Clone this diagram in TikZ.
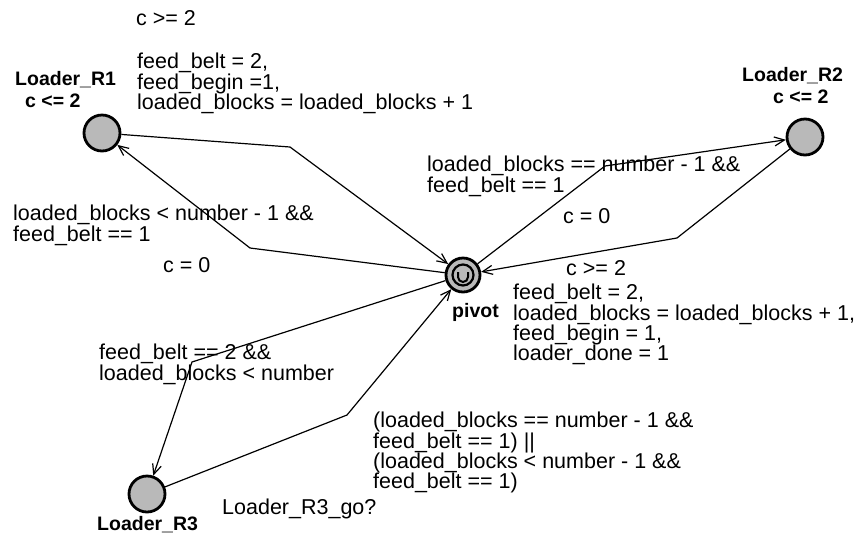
\documentclass[tikz,border=0pt]{standalone}
\usepackage{fontspec}
\setmainfont{Liberation Sans}
\usetikzlibrary{arrows.meta}
\tikzset{
  loc/.style = {circle, draw=black, line width=2.8pt, fill=gray!55,
    minimum size=36pt, inner sep=0pt},% location
  lname/.style = {font=\fontsize{19.5}{20}\selectfont\bfseries,
    inner sep=0pt, anchor=west},% name / invariant
  lbl/.style = {font=\fontsize{21.5}{20.3}\selectfont, align=left,
    inner sep=0pt, anchor=north west},% guard, sync, update
  trans/.style = {->, line width=1.2pt}% transition
}

\begin{document}
\begin{tikzpicture}[x=1pt,y=-1pt,>={Straight Barb[length=10pt,width=9pt]}]
\useasboundingbox (0,0) rectangle (865,542);

\node [loc] (r1) at (102,133) {};
\node [loc] (r2) at (805,137) {};
\node [loc] (r3) at (147,494) {};
\node [loc, minimum size=34pt] (pivot) at (463,275) {};
\draw [line width=2.2pt] (pivot) circle (10.5);
\draw [line width=2pt] (pivot) ++(-5,-3) -- ++(0,5)
  arc[start angle=180, end angle=0, radius=5] -- ++(0,-5);

\node [lname] (r1name) at (15,80) {Loader\_R1};
\node [lname] (r1inv) at (25,101) {c <= 2};
\node [lname] (r2name) at (742,76) {Loader\_R2};
\node [lname] (r2inv) at (773,97) {c <= 2};
\node [lname] (pname) at (452,312) {pivot};
\node [lname] (r3name) at (97,525) {Loader\_R3};

\coordinate (b1) at (290,147);
\coordinate (b2) at (250,248);
\coordinate (b3) at (605,166);
\coordinate (b4) at (677,238);
\coordinate (b5) at (192,362);
\coordinate (b6) at (347,415);

\draw [trans] (r1) -- (b1) -- (pivot);
\draw [trans] (pivot) -- (b2) -- (r1);
\draw [trans] (pivot) -- (b3) -- (r2);
\draw [trans] (r2) -- (b4) -- (pivot);
\draw [trans] (pivot) -- (b5) -- (r3);
\draw [trans] (r3) -- (b6) -- (pivot);

% R1 -> pivot
\node [lbl] (g1) at (136,10) {c >= 2};
\node [lbl] (u1) at (137,53) {feed\_belt = 2,\\feed\_begin =1,\\loaded\_blocks = loaded\_blocks + 1};
% pivot -> R1
\node [lbl] (g2) at (13,205) {loaded\_blocks < number - 1 \&\&\\feed\_belt == 1};
\node [lbl] (u2) at (163,257) {c = 0};
% pivot -> R2
\node [lbl] (g3) at (427,156) {loaded\_blocks == number - 1 \&\&\\feed\_belt == 1};
\node [lbl] (u3) at (563,208) {c = 0};
% R2 -> pivot
\node [lbl] (g4) at (566,260) {c >= 2};
\node [lbl] (u4) at (513,284) {feed\_belt = 2,\\loaded\_blocks = loaded\_blocks + 1,\\feed\_begin = 1,\\loader\_done = 1};
% pivot -> R3
\node [lbl] (g5) at (99,344) {feed\_belt == 2 \&\&\\loaded\_blocks < number};
% R3 -> pivot
\node [lbl] (g6) at (373,412) {(loaded\_blocks == number - 1 \&\&\\feed\_belt == 1) ||\\(loaded\_blocks < number - 1 \&\&\\feed\_belt == 1)};
\node [lbl] (s6) at (222,499) {Loader\_R3\_go?};
\end{tikzpicture}
\end{document}
